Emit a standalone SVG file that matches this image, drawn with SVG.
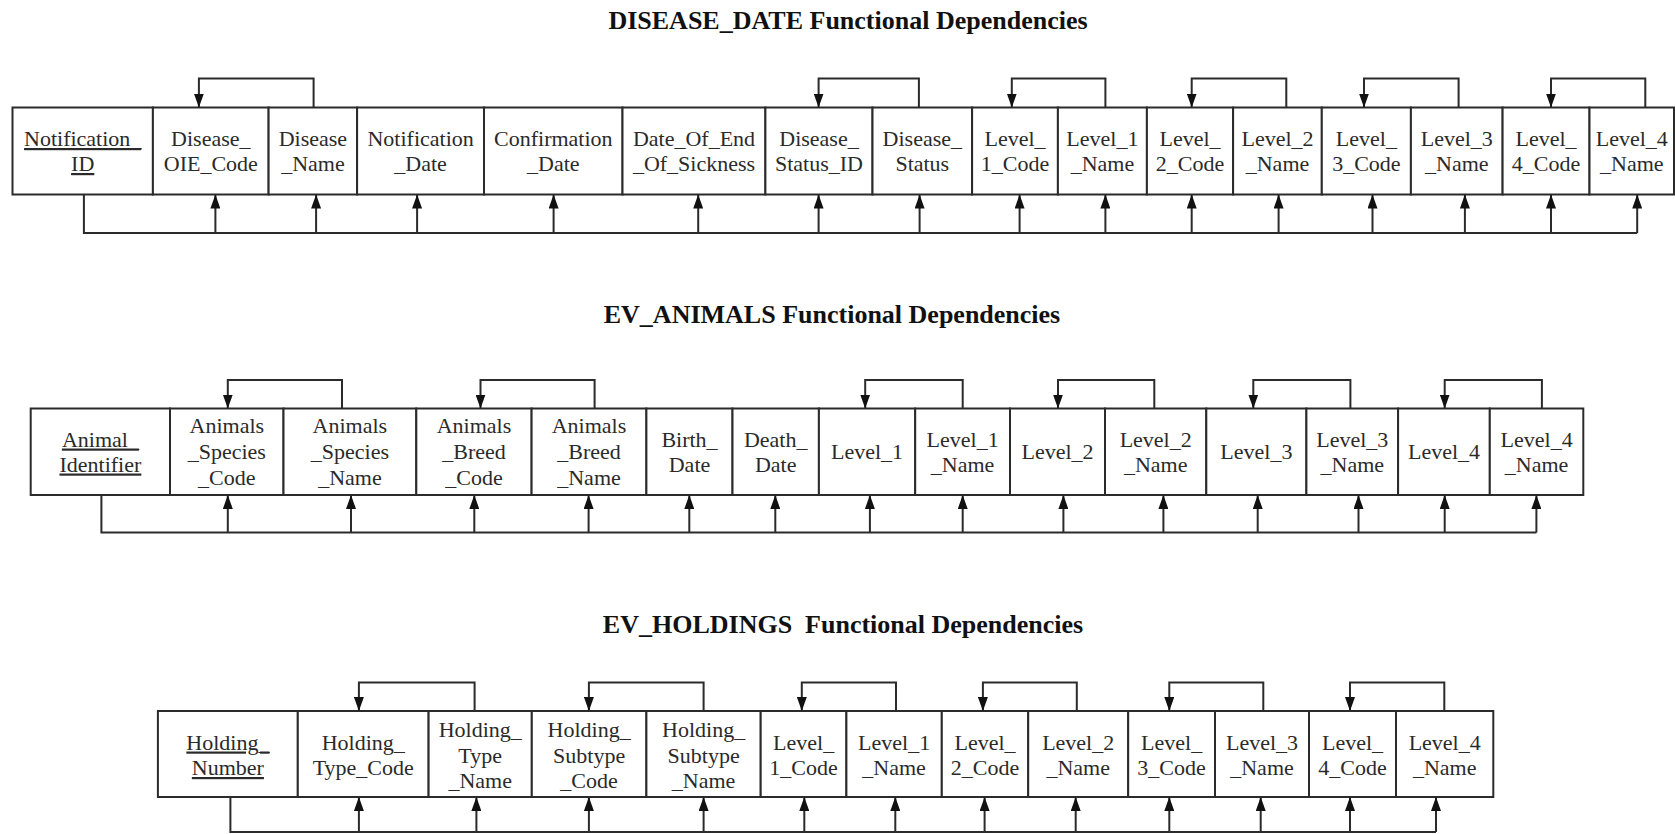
<svg xmlns="http://www.w3.org/2000/svg" width="1675" height="834" viewBox="0 0 1675 834">
<style>
  .bg{fill:#ffffff}
  .cell{fill:#ffffff;stroke:#2b2b2b;stroke-width:2}
  .t{font-family:"Liberation Serif","Times New Roman",serif;font-size:22px;fill:#2a2a2a;text-anchor:middle}
  .pk{text-decoration:underline}
  .title{font-family:"Liberation Serif","Times New Roman",serif;font-size:26px;font-weight:bold;fill:#111;text-anchor:middle}
  .c{fill:none;stroke:#2b2b2b;stroke-width:2}
  .a{fill:none;stroke:#2b2b2b;stroke-width:2;marker-end:url(#ah)}
</style>
<defs>
  <marker id="ah" viewBox="0 0 14 10" markerWidth="14" markerHeight="10" refX="14" refY="5" orient="auto" markerUnits="userSpaceOnUse">
    <path d="M0,0 L14,5 L0,10 z" fill="#111"/>
  </marker>
</defs>
<rect class="bg" x="0" y="0" width="1675" height="834"/>

<text id="title-disease-date" class="title" x="848" y="29">DISEASE_DATE Functional Dependencies</text>
<text id="title-ev-animals" class="title" x="832" y="323">EV_ANIMALS Functional Dependencies</text>
<text id="title-ev-holdings" class="title" x="843" y="633" xml:space="preserve">EV_HOLDINGS  Functional Dependencies</text>

<!-- ROW 1: DISEASE_DATE -->
<g id="disease-date">
  <g id="dd-notification-id"><rect class="cell" x="12.5" y="107.5" width="140.4" height="87"/><text class="t pk"><tspan x="82.7" y="146">Notification_</tspan><tspan x="82.7" y="171">ID</tspan></text></g>
  <g id="dd-disease-oie-code"><rect class="cell" x="152.9" y="107.5" width="115.7" height="87"/><text class="t"><tspan x="210.8" y="146">Disease_</tspan><tspan x="210.8" y="171">OIE_Code</tspan></text></g>
  <g id="dd-disease-name"><rect class="cell" x="268.6" y="107.5" width="88.5" height="87"/><text class="t"><tspan x="312.9" y="146">Disease</tspan><tspan x="312.9" y="171">_Name</tspan></text></g>
  <g id="dd-notification-date"><rect class="cell" x="357.1" y="107.5" width="126.9" height="87"/><text class="t"><tspan x="420.6" y="146">Notification</tspan><tspan x="420.6" y="171">_Date</tspan></text></g>
  <g id="dd-confirmation-date"><rect class="cell" x="484" y="107.5" width="138.5" height="87"/><text class="t"><tspan x="553.3" y="146">Confirmation</tspan><tspan x="553.3" y="171">_Date</tspan></text></g>
  <g id="dd-date-end-sickness"><rect class="cell" x="622.5" y="107.5" width="142.9" height="87"/><text class="t"><tspan x="694" y="146">Date_Of_End</tspan><tspan x="694" y="171">_Of_Sickness</tspan></text></g>
  <g id="dd-disease-status-id"><rect class="cell" x="765.4" y="107.5" width="107.1" height="87"/><text class="t"><tspan x="819" y="146">Disease_</tspan><tspan x="819" y="171">Status_ID</tspan></text></g>
  <g id="dd-disease-status"><rect class="cell" x="872.5" y="107.5" width="99.6" height="87"/><text class="t"><tspan x="922.3" y="146">Disease_</tspan><tspan x="922.3" y="171">Status</tspan></text></g>
  <g id="dd-level-1-code"><rect class="cell" x="972.1" y="107.5" width="85.8" height="87"/><text class="t"><tspan x="1015" y="146">Level_</tspan><tspan x="1015" y="171">1_Code</tspan></text></g>
  <g id="dd-level-1-name"><rect class="cell" x="1057.9" y="107.5" width="89" height="87"/><text class="t"><tspan x="1102.4" y="146">Level_1</tspan><tspan x="1102.4" y="171">_Name</tspan></text></g>
  <g id="dd-level-2-code"><rect class="cell" x="1146.9" y="107.5" width="86.2" height="87"/><text class="t"><tspan x="1190" y="146">Level_</tspan><tspan x="1190" y="171">2_Code</tspan></text></g>
  <g id="dd-level-2-name"><rect class="cell" x="1233.1" y="107.5" width="88.7" height="87"/><text class="t"><tspan x="1277.5" y="146">Level_2</tspan><tspan x="1277.5" y="171">_Name</tspan></text></g>
  <g id="dd-level-3-code"><rect class="cell" x="1321.8" y="107.5" width="89.1" height="87"/><text class="t"><tspan x="1366.4" y="146">Level_</tspan><tspan x="1366.4" y="171">3_Code</tspan></text></g>
  <g id="dd-level-3-name"><rect class="cell" x="1410.9" y="107.5" width="91.7" height="87"/><text class="t"><tspan x="1456.8" y="146">Level_3</tspan><tspan x="1456.8" y="171">_Name</tspan></text></g>
  <g id="dd-level-4-code"><rect class="cell" x="1502.6" y="107.5" width="86.9" height="87"/><text class="t"><tspan x="1546" y="146">Level_</tspan><tspan x="1546" y="171">4_Code</tspan></text></g>
  <g id="dd-level-4-name"><rect class="cell" x="1589.5" y="107.5" width="84.5" height="87"/><text class="t"><tspan x="1631.8" y="146">Level_4</tspan><tspan x="1631.8" y="171">_Name</tspan></text></g>
</g>

<!-- ROW 2: EV_ANIMALS -->
<g id="ev-animals">
  <g id="ea-animal-identifier"><rect class="cell" x="30.7" y="408.5" width="139.3" height="86.5"/><text class="t pk"><tspan x="100.4" y="446.5">Animal_</tspan><tspan x="100.4" y="471.5">Identifier</tspan></text></g>
  <g id="ea-species-code"><rect class="cell" x="170" y="408.5" width="113.5" height="86.5"/><text class="t"><tspan x="226.8" y="432.5">Animals</tspan><tspan x="226.8" y="458.5">_Species</tspan><tspan x="226.8" y="484.5">_Code</tspan></text></g>
  <g id="ea-species-name"><rect class="cell" x="283.5" y="408.5" width="132.8" height="86.5"/><text class="t"><tspan x="349.9" y="432.5">Animals</tspan><tspan x="349.9" y="458.5">_Species</tspan><tspan x="349.9" y="484.5">_Name</tspan></text></g>
  <g id="ea-breed-code"><rect class="cell" x="416.3" y="408.5" width="115.3" height="86.5"/><text class="t"><tspan x="474" y="432.5">Animals</tspan><tspan x="474" y="458.5">_Breed</tspan><tspan x="474" y="484.5">_Code</tspan></text></g>
  <g id="ea-breed-name"><rect class="cell" x="531.6" y="408.5" width="114.8" height="86.5"/><text class="t"><tspan x="589" y="432.5">Animals</tspan><tspan x="589" y="458.5">_Breed</tspan><tspan x="589" y="484.5">_Name</tspan></text></g>
  <g id="ea-birth-date"><rect class="cell" x="646.4" y="408.5" width="86.1" height="86.5"/><text class="t"><tspan x="689.5" y="446.5">Birth_</tspan><tspan x="689.5" y="471.5">Date</tspan></text></g>
  <g id="ea-death-date"><rect class="cell" x="732.5" y="408.5" width="86.4" height="86.5"/><text class="t"><tspan x="775.7" y="446.5">Death_</tspan><tspan x="775.7" y="471.5">Date</tspan></text></g>
  <g id="ea-level-1"><rect class="cell" x="818.9" y="408.5" width="96.3" height="86.5"/><text class="t" x="867" y="459">Level_1</text></g>
  <g id="ea-level-1-name"><rect class="cell" x="915.2" y="408.5" width="94.8" height="86.5"/><text class="t"><tspan x="962.6" y="446.5">Level_1</tspan><tspan x="962.6" y="471.5">_Name</tspan></text></g>
  <g id="ea-level-2"><rect class="cell" x="1010" y="408.5" width="95" height="86.5"/><text class="t" x="1057.5" y="459">Level_2</text></g>
  <g id="ea-level-2-name"><rect class="cell" x="1105" y="408.5" width="101.3" height="86.5"/><text class="t"><tspan x="1155.7" y="446.5">Level_2</tspan><tspan x="1155.7" y="471.5">_Name</tspan></text></g>
  <g id="ea-level-3"><rect class="cell" x="1206.3" y="408.5" width="100.1" height="86.5"/><text class="t" x="1256.4" y="459">Level_3</text></g>
  <g id="ea-level-3-name"><rect class="cell" x="1306.4" y="408.5" width="91.7" height="86.5"/><text class="t"><tspan x="1352.3" y="446.5">Level_3</tspan><tspan x="1352.3" y="471.5">_Name</tspan></text></g>
  <g id="ea-level-4"><rect class="cell" x="1398.1" y="408.5" width="91.7" height="86.5"/><text class="t" x="1444" y="459">Level_4</text></g>
  <g id="ea-level-4-name"><rect class="cell" x="1489.8" y="408.5" width="93.5" height="86.5"/><text class="t"><tspan x="1536.6" y="446.5">Level_4</tspan><tspan x="1536.6" y="471.5">_Name</tspan></text></g>
</g>

<!-- ROW 3: EV_HOLDINGS -->
<g id="ev-holdings">
  <g id="eh-holding-number"><rect class="cell" x="157.9" y="711" width="139.9" height="86"/><text class="t pk"><tspan x="227.9" y="749.5">Holding_</tspan><tspan x="227.9" y="775">Number</tspan></text></g>
  <g id="eh-holding-type-code"><rect class="cell" x="297.8" y="711" width="130.8" height="86"/><text class="t"><tspan x="363.2" y="749.5">Holding_</tspan><tspan x="363.2" y="775">Type_Code</tspan></text></g>
  <g id="eh-holding-type-name"><rect class="cell" x="428.6" y="711" width="103.2" height="86"/><text class="t"><tspan x="480.2" y="737">Holding_</tspan><tspan x="480.2" y="762.5">Type</tspan><tspan x="480.2" y="788">_Name</tspan></text></g>
  <g id="eh-holding-subtype-code"><rect class="cell" x="531.8" y="711" width="114.6" height="86"/><text class="t"><tspan x="589.1" y="737">Holding_</tspan><tspan x="589.1" y="762.5">Subtype</tspan><tspan x="589.1" y="788">_Code</tspan></text></g>
  <g id="eh-holding-subtype-name"><rect class="cell" x="646.4" y="711" width="114.3" height="86"/><text class="t"><tspan x="703.6" y="737">Holding_</tspan><tspan x="703.6" y="762.5">Subtype</tspan><tspan x="703.6" y="788">_Name</tspan></text></g>
  <g id="eh-level-1-code"><rect class="cell" x="760.7" y="711" width="85.7" height="86"/><text class="t"><tspan x="803.6" y="749.5">Level_</tspan><tspan x="803.6" y="775">1_Code</tspan></text></g>
  <g id="eh-level-1-name"><rect class="cell" x="846.4" y="711" width="95.4" height="86"/><text class="t"><tspan x="894.1" y="749.5">Level_1</tspan><tspan x="894.1" y="775">_Name</tspan></text></g>
  <g id="eh-level-2-code"><rect class="cell" x="941.8" y="711" width="86.4" height="86"/><text class="t"><tspan x="985" y="749.5">Level_</tspan><tspan x="985" y="775">2_Code</tspan></text></g>
  <g id="eh-level-2-name"><rect class="cell" x="1028.2" y="711" width="100" height="86"/><text class="t"><tspan x="1078.2" y="749.5">Level_2</tspan><tspan x="1078.2" y="775">_Name</tspan></text></g>
  <g id="eh-level-3-code"><rect class="cell" x="1128.2" y="711" width="86.8" height="86"/><text class="t"><tspan x="1171.6" y="749.5">Level_</tspan><tspan x="1171.6" y="775">3_Code</tspan></text></g>
  <g id="eh-level-3-name"><rect class="cell" x="1215" y="711" width="94" height="86"/><text class="t"><tspan x="1262" y="749.5">Level_3</tspan><tspan x="1262" y="775">_Name</tspan></text></g>
  <g id="eh-level-4-code"><rect class="cell" x="1309" y="711" width="87" height="86"/><text class="t"><tspan x="1352.5" y="749.5">Level_</tspan><tspan x="1352.5" y="775">4_Code</tspan></text></g>
  <g id="eh-level-4-name"><rect class="cell" x="1396" y="711" width="97.3" height="86"/><text class="t"><tspan x="1444.7" y="749.5">Level_4</tspan><tspan x="1444.7" y="775">_Name</tspan></text></g>
</g>

<g id="connectors">
  <!-- row 1 top -->
  <path class="a" d="M313.6,107.5 V78.5 H198.9 V107.5"/>
  <path class="a" d="M918.9,107.5 V78.5 H818.6 V107.5"/>
  <path class="a" d="M1105.4,107.5 V78.5 H1011.8 V107.5"/>
  <path class="a" d="M1286.3,107.5 V78.5 H1191.7 V107.5"/>
  <path class="a" d="M1458.6,107.5 V78.5 H1364 V107.5"/>
  <path class="a" d="M1645.3,107.5 V78.5 H1551 V107.5"/>
  <!-- row 1 bottom -->
  <path class="c" d="M83.9,194.5 V233 H1637.2"/>
  <path class="a" d="M215.4,233 V194.5"/>
  <path class="a" d="M316.1,233 V194.5"/>
  <path class="a" d="M417.1,233 V194.5"/>
  <path class="a" d="M553.6,233 V194.5"/>
  <path class="a" d="M698.2,233 V194.5"/>
  <path class="a" d="M818.6,233 V194.5"/>
  <path class="a" d="M919.6,233 V194.5"/>
  <path class="a" d="M1019.6,233 V194.5"/>
  <path class="a" d="M1105.4,233 V194.5"/>
  <path class="a" d="M1191.7,233 V194.5"/>
  <path class="a" d="M1278.6,233 V194.5"/>
  <path class="a" d="M1372.5,233 V194.5"/>
  <path class="a" d="M1464.9,233 V194.5"/>
  <path class="a" d="M1551,233 V194.5"/>
  <path class="a" d="M1637.2,233 V194.5"/>

  <!-- row 2 top -->
  <path class="a" d="M342,408.5 V380 H227.8 V408.5"/>
  <path class="a" d="M594.6,408.5 V380 H480.5 V408.5"/>
  <path class="a" d="M962.7,408.5 V380 H865.2 V408.5"/>
  <path class="a" d="M1154.3,408.5 V380 H1058 V408.5"/>
  <path class="a" d="M1350.4,408.5 V380 H1253.3 V408.5"/>
  <path class="a" d="M1541.9,408.5 V380 H1444.7 V408.5"/>
  <!-- row 2 bottom -->
  <path class="c" d="M101.4,495 V532.5 H1536.4"/>
  <path class="a" d="M227.8,532.5 V495"/>
  <path class="a" d="M351,532.5 V495"/>
  <path class="a" d="M474.3,532.5 V495"/>
  <path class="a" d="M588.6,532.5 V495"/>
  <path class="a" d="M689.3,532.5 V495"/>
  <path class="a" d="M775.3,532.5 V495"/>
  <path class="a" d="M869.9,532.5 V495"/>
  <path class="a" d="M962.7,532.5 V495"/>
  <path class="a" d="M1063.4,532.5 V495"/>
  <path class="a" d="M1163.4,532.5 V495"/>
  <path class="a" d="M1257.7,532.5 V495"/>
  <path class="a" d="M1358.5,532.5 V495"/>
  <path class="a" d="M1444.7,532.5 V495"/>
  <path class="a" d="M1536.4,532.5 V495"/>

  <!-- row 3 top -->
  <path class="a" d="M474.6,711 V682.5 H358.9 V711"/>
  <path class="a" d="M703.6,711 V682.5 H588.9 V711"/>
  <path class="a" d="M896,711 V682.5 H801.8 V711"/>
  <path class="a" d="M1076.8,711 V682.5 H982.9 V711"/>
  <path class="a" d="M1263.3,711 V682.5 H1169.3 V711"/>
  <path class="a" d="M1444.3,711 V682.5 H1350 V711"/>
  <!-- row 3 bottom -->
  <path class="c" d="M230.4,797 V832 H1436"/>
  <path class="a" d="M358.9,832 V797"/>
  <path class="a" d="M476.4,832 V797"/>
  <path class="a" d="M588.9,832 V797"/>
  <path class="a" d="M703.6,832 V797"/>
  <path class="a" d="M804.3,832 V797"/>
  <path class="a" d="M895.3,832 V797"/>
  <path class="a" d="M984.6,832 V797"/>
  <path class="a" d="M1075.7,832 V797"/>
  <path class="a" d="M1169.3,832 V797"/>
  <path class="a" d="M1260.7,832 V797"/>
  <path class="a" d="M1350,832 V797"/>
  <path class="a" d="M1436,832 V797"/>
</g>
</svg>
